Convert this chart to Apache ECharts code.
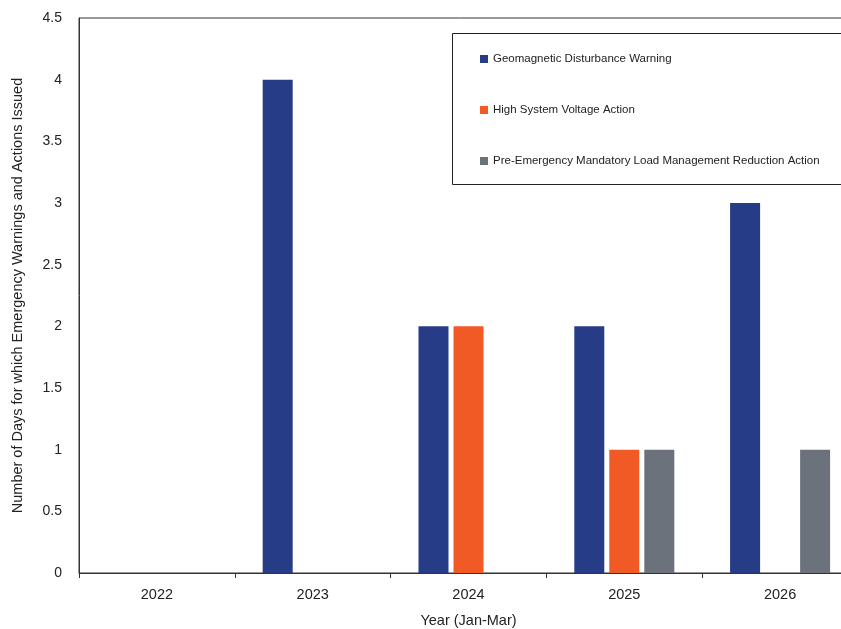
<!DOCTYPE html>
<html>
<head>
<meta charset="utf-8">
<script src="https://cdn.jsdelivr.net/npm/echarts@6/dist/echarts.min.js"></script>
<style>
  html, body { margin: 0; padding: 0; background: #ffffff; }
  #chart { width: 841px; height: 629px; }
</style>
</head>
<body>
<div id="chart"></div>
<script>
// Years (January to March of each year)
const years = ['2022', '2023', '2024', '2025', '2026'];

// Days with each warning / action type
const geomagneticWarning = [0, 4, 2, 2, 3];
const highVoltageAction = [0, 0, 2, 1, 0];
const preEmergencyReduction = [0, 0, 0, 1, 1];

const seriesNames = [
  'Geomagnetic Disturbance Warning',
  'High System Voltage Action',
  'Pre-Emergency Mandatory Load Management Reduction Action'
];
const seriesColors = ['#263c87', '#f15a24', '#6b727b'];

const FONT = '"Liberation Sans", Arial, sans-serif';
const TEXT = '#222222';

const chart = echarts.init(document.getElementById('chart'), null, { renderer: 'canvas' });

function bar(name, data, color) {
  return {
    name: name,
    type: 'bar',
    data: data,
    barWidth: 30,
    barGap: '16.7%',
    itemStyle: { color: color },
    emphasis: { disabled: true }
  };
}

chart.setOption({
  animation: false,
  backgroundColor: '#ffffff',
  grid: {
    left: 79,
    top: 18,
    bottom: 56,
    right: -17,
    outerBoundsMode: 'none',
    containLabel: false,
    show: true,
    borderColor: '#333333',
    borderWidth: 1,
    backgroundColor: 'transparent'
  },
  graphic: [{
    type: 'rect',
    left: 452,
    top: 33,
    shape: { width: 420, height: 151 },
    style: { fill: '#ffffff', stroke: '#222222', lineWidth: 1 },
    z: 10
  }],
  legend: {
    orient: 'vertical',
    left: 480,
    top: 52,
    padding: 0,
    itemWidth: 8,
    itemHeight: 8,
    itemGap: 37,
    icon: 'rect',
    z: 20,
    selectedMode: false,
    textStyle: { fontFamily: FONT, fontSize: 11.5, color: TEXT, lineHeight: 14 },
    data: seriesNames
  },
  xAxis: {
    type: 'category',
    data: years,
    name: 'Year (Jan-Mar)',
    nameLocation: 'middle',
    nameGap: 40,
    nameTextStyle: { fontFamily: FONT, fontSize: 14.5, color: TEXT },
    axisLine: { lineStyle: { color: '#333333', width: 1 } },
    axisTick: { show: true, length: 5, inside: false, lineStyle: { color: '#333333' } },
    axisLabel: { fontFamily: FONT, fontSize: 14.5, color: TEXT, margin: 14 },
    splitLine: { show: false }
  },
  yAxis: {
    type: 'value',
    min: 0,
    max: 4.5,
    interval: 0.5,
    name: 'Number of Days for which Emergency Warnings and Actions Issued',
    nameLocation: 'middle',
    nameGap: 54,
    nameTextStyle: { fontFamily: FONT, fontSize: 14.5, color: TEXT },
    axisLine: { show: true, lineStyle: { color: '#333333', width: 1 } },
    axisTick: { show: false },
    axisLabel: { fontFamily: FONT, fontSize: 14, color: TEXT, margin: 17 },
    splitLine: { show: false }
  },
  series: [
    bar(seriesNames[0], geomagneticWarning, seriesColors[0]),
    bar(seriesNames[1], highVoltageAction, seriesColors[1]),
    bar(seriesNames[2], preEmergencyReduction, seriesColors[2])
  ]
});
</script>
</body>
</html>
